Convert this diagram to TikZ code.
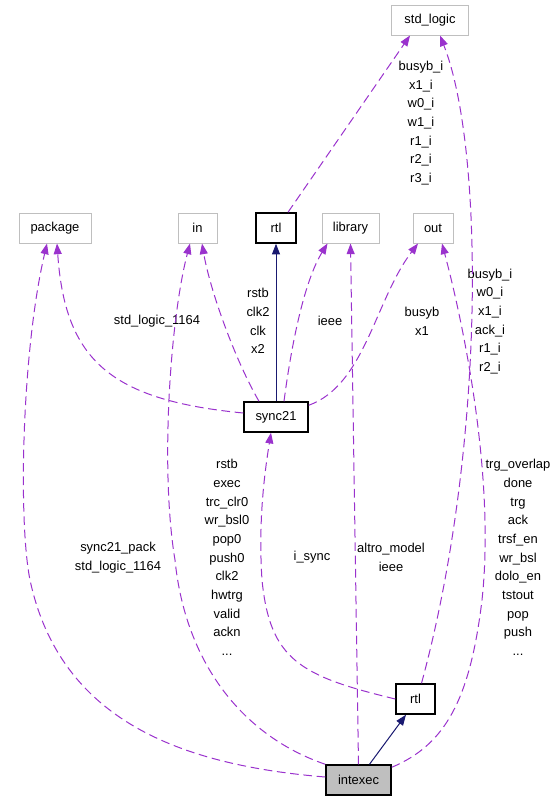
\documentclass[tikz,border=0pt]{standalone}
\usepackage{fontspec}
\setmainfont{Liberation Sans}
\usetikzlibrary{arrows.meta,calc}
\definecolor{deppurple}{HTML}{9A32CD}
\definecolor{inhnavy}{HTML}{191970}
\definecolor{boxgray}{HTML}{BFBFBF}

\begin{document}
\begin{tikzpicture}[x=0.75pt, y=-0.75pt,
  every node/.style={font=\fontsize{9.7pt}{14pt}\selectfont},
  leaf/.style={draw=boxgray, line width=0.75pt, minimum height=22.5pt, inner sep=0pt},
  cls/.style={draw=black, line width=1.1pt, minimum height=22.5pt, inner sep=0pt},
  dep/.style={deppurple, line width=0.75pt, dash pattern=on 6.5pt off 3.5pt, -{Triangle[length=8pt,width=6pt]}},
  inh/.style={inhnavy, line width=0.75pt, -{Triangle[length=8pt,width=6pt]}},
  lbl/.style={align=center, inner sep=0pt}]
\useasboundingbox (0,0) rectangle (553,800);
% boxes
\node[leaf, minimum width=57.75pt] (stdlogic) at (430,20) {std\_logic};
\node[leaf, minimum width=54pt] (package) at (55,228) {package};
\node[leaf, minimum width=29.25pt] (inport) at (197.5,228) {in};
\node[cls, minimum width=30pt] (rtltop) at (276,228) {rtl};
\node[leaf, minimum width=42.75pt] (lib) at (350.5,228) {library};
\node[leaf, minimum width=30pt] (outport) at (433,228) {out};
\node[cls, minimum width=48pt] (sync21) at (276,417) {sync21};
\node[cls, minimum width=29.25pt] (rtlbot) at (415.5,699) {rtl};
\node[cls, fill=boxgray, minimum width=48.75pt] (intexec) at (358.5,780) {intexec};
% edge labels
\node[lbl] (l-rtl-std) at (421,123) {busyb\_i\\x1\_i\\w0\_i\\w1\_i\\r1\_i\\r2\_i\\r3\_i};
\node[lbl] (l-rtlb-std) at (490,321.5) {busyb\_i\\w0\_i\\x1\_i\\ack\_i\\r1\_i\\r2\_i};
\node[lbl] (l-int-out) at (518,557.5) {trg\_overlap\\done\\trg\\ack\\trsf\_en\\wr\_bsl\\dolo\_en\\tstout\\pop\\push\\...};
\node[lbl] (l-sync-out) at (422,321.5) {busyb\\x1};
\node[lbl] (l-sync-lib) at (330,321) {ieee};
\node[lbl] (l-sync-in) at (258,321) {rstb\\clk2\\clk\\x2};
\node[lbl] (l-sync-pkg) at (157,321) {std\_logic\_1164};
\node[lbl] (l-int-in) at (227,557.5) {rstb\\exec\\trc\_clr0\\wr\_bsl0\\pop0\\push0\\clk2\\hwtrg\\valid\\ackn\\...};
\node[lbl] (l-rtlb-sync) at (312,557) {i\_sync};
\node[lbl] (l-int-lib) at (391,557.5) {altro\_model\\ieee};
\node[lbl] (l-int-pkg) at (118,557.5) {sync21\_pack\\std\_logic\_1164};
% connectors
\draw[dep] ($(intexec.west)+(0,-3)$) .. controls (180,765) and (60,720) .. (30,580) .. controls (18,520) and (22,350) .. ($(package.south)+(-8,0)$);
\draw[dep] ($(sync21.west)+(0,-4)$) .. controls (110,400) and (65,360) .. ($(package.south)+(2,0)$);
\draw[dep] (intexec.north west) .. controls (240,735) and (185,660) .. (175,560) .. controls (160,470) and (170,320) .. ($(inport.south)+(-7.5,0)$);
\draw[dep] ($(sync21.north)+(-17,0)$) .. controls (235,360) and (210,290) .. ($(inport.south)+(4.5,0)$);
\draw[inh] (sync21.north) -- (rtltop.south);
\draw[dep] ($(sync21.north)+(8,0)$) .. controls (292,340) and (305,280) .. ($(lib.south)+(-23,0)$);
\draw[dep] (intexec.north) -- (lib.south);
\draw[dep] ($(sync21.north east)+(0,4)$) .. controls (365,385) and (375,300) .. ($(outport.south)+(-15,0)$);
\draw[dep] ($(intexec.north east)+(0,3)$) .. controls (445,745) and (470,700) .. (482,600) .. controls (495,480) and (465,330) .. ($(outport.south)+(9,0)$);
\draw[dep] (rtlbot.west) .. controls (300,676) and (270,660) .. (262,580) .. controls (258,520) and (265,470) .. ($(sync21.south)+(-5,0)$);
\draw[inh] ($(intexec.north)+(11,0)$) -- ($(rtlbot.south)+(-9.5,0)$);
\draw[dep] ($(rtlbot.north)+(6,0)$) .. controls (485,450) and (485,150) .. ($(stdlogic.south)+(10,0)$);
\draw[dep] ($(rtltop.north)+(12,0)$) -- ($(stdlogic.south)+(-20,0)$);
\end{tikzpicture}
\end{document}
